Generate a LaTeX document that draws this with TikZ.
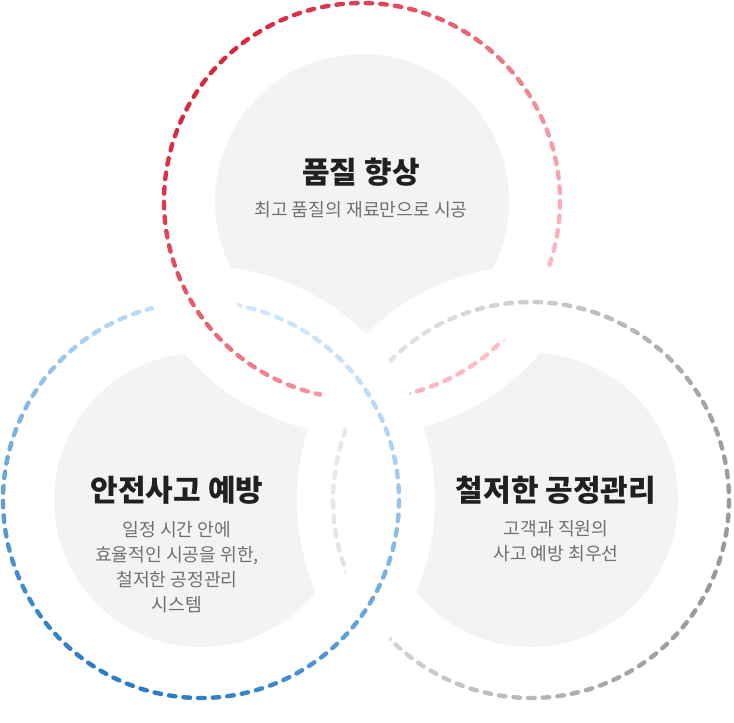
\documentclass[tikz,border=0pt]{standalone}
\usepackage{fontspec}
\setmainfont{Noto Sans CJK KR}
\definecolor{fillgray}{HTML}{F3F3F3}
\definecolor{reddark}{HTML}{D7263D}
\definecolor{redlight}{HTML}{FFBDC6}
\definecolor{bluedark}{HTML}{2A7CC7}
\definecolor{bluelight}{HTML}{CBE6FD}
\definecolor{graydark}{HTML}{999999}
\definecolor{graylight}{HTML}{E8E8E8}
\definecolor{titlecol}{HTML}{202020}
\definecolor{subcol}{HTML}{707070}
\newcommand\dashring[4]{%
  \foreach \i in {0,...,84}{%
    \pgfmathsetmacro\a{\i*4.2352941}%
    \pgfmathtruncatemacro\p{50+50*cos(\a-#2)}%
    \draw[dashseg, color=#3!\p!#4] ([shift={(\a:198)}]#1) arc[start angle=\a, delta angle=1.9, radius=198];
  }}
\begin{document}
\begin{tikzpicture}[x=1pt,y=-1pt,
  dashseg/.style={line width=4.4pt, line cap=round},
  ringwhite/.style={draw=white, line width=72pt},
  disc/.style={fill=fillgray},
  title/.style={font=\bfseries\fontsize{30}{34}\selectfont, text=titlecol, inner sep=0pt},
  sub/.style={font=\fontsize{18.2}{25}\selectfont, text=subcol, align=center, inner sep=0pt}]
\useasboundingbox (0,0) rectangle (734,723);
\fill[white] (0,0) rectangle (734,723);
\coordinate (cr) at (362,201);
\coordinate (cb) at (201,500);
\coordinate (cg) at (531,500);
% filled discs
\fill[disc] (cr) circle (147);
\fill[disc] (cb) circle (147);
\fill[disc] (cg) circle (147);
% rings, woven
\draw[ringwhite] (cr) circle (198);
\dashring{cr}{220}{reddark}{redlight}
\draw[ringwhite] (cg) circle (198);
\dashring{cg}{15}{graydark}{graylight}
\draw[ringwhite] (cb) circle (198);
\dashring{cb}{110}{bluedark}{bluelight}
\begin{scope}
  \clip (192,302) circle (110);
  \draw[ringwhite] (cr) circle (198);
  \dashring{cr}{220}{reddark}{redlight}
\end{scope}
% texts
\node[title] (t1) at (361,172) {품질 향상};
\node[sub] (s1) at (361,210) {최고 품질의 재료만으로 시공};
\node[title] (t2) at (177,490) {안전사고 예방};
\node[sub] (s2) at (177,567) {일정 시간 안에\\효율적인 시공을 위한,\\철저한 공정관리\\시스템};
\node[title] (t3) at (556,490) {철저한 공정관리};
\node[sub] (s3) at (556,541) {고객과 직원의\\사고 예방 최우선};
\end{tikzpicture}
\end{document}
